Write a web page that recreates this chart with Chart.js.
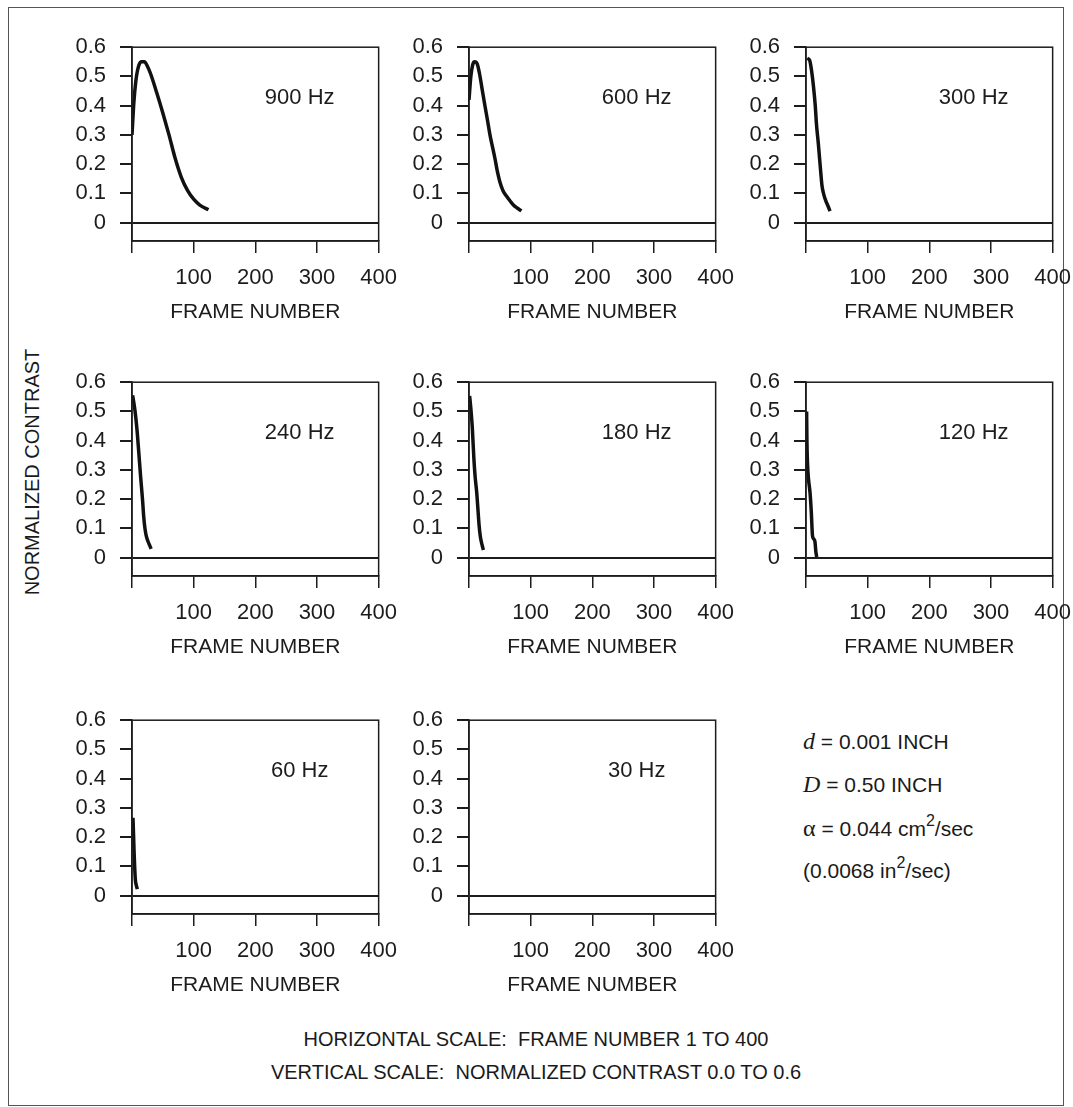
<!DOCTYPE html>
<html>
<head>
<meta charset="utf-8">
<title>Normalized contrast vs frame number</title>
<script src="https://cdn.jsdelivr.net/npm/chart.js@4/dist/chart.umd.min.js"></script>
<style>
  body {
    margin: 0;
    background: #fff;
    width: 1073px;
    height: 1107px;
    position: relative;
    overflow: hidden;
    font-family: "Liberation Sans", Arial, sans-serif;
    color: #1a1a1a;
  }
  #frame {
    position: absolute;
    left: 8px; top: 7px;
    width: 1056px; height: 1099px;
    border: 1px solid #555;
    box-sizing: border-box;
  }
  .panel { position: absolute; }
  #ylabel {
    position: absolute;
    left: 32px; top: 472px;
    transform: translate(-50%, -50%) rotate(-90deg);
    font-size: 20px;
    white-space: nowrap;
  }
  .note {
    position: absolute;
    left: 803px;
    font-size: 21px;
    white-space: nowrap;
    transform: translateY(-50%);
  }
  .note .sym { font-family: "Liberation Serif", serif; font-style: italic; font-size: 24px; }
  .note .greek { font-family: "Liberation Serif", serif; font-size: 24px; }
  .note sup { font-size: 16px; line-height: 0; vertical-align: 10px; }
  .foot {
    position: absolute;
    left: 8px; width: 1056px;
    text-align: center;
    font-size: 20px;
    white-space: pre;
    transform: translateY(-50%);
  }
</style>
</head>
<body>
<div id="frame"></div>
<div id="ylabel">NORMALIZED CONTRAST</div>

<div class="note" style="top:741px"><span class="sym">d</span> = 0.001 INCH</div>
<div class="note" style="top:784px"><span class="sym">D</span> = 0.50 INCH</div>
<div class="note" style="top:828px"><span class="greek">α</span> = 0.044 cm<sup>2</sup>/sec</div>
<div class="note" style="top:871px">(0.0068 in<sup>2</sup>/sec)</div>

<div class="foot" style="top:1039px">HORIZONTAL SCALE:  FRAME NUMBER 1 TO 400</div>
<div class="foot" style="top:1072px">VERTICAL SCALE:  NORMALIZED CONTRAST 0.0 TO 0.6</div>

<script>
// axis ticks shared by every panel
const xTicks = [0, 100, 200, 300, 400];
const yTicks = [0, 0.1, 0.2, 0.3, 0.4, 0.5, 0.6];

// contrast curves, one per excitation frequency
const frames900 = [0, 3, 6, 10, 15, 20, 25, 30, 40, 50, 60, 70, 80, 90, 100, 110, 124];
const contrast900 = [0.30, 0.41, 0.48, 0.53, 0.55, 0.55, 0.535, 0.51, 0.445, 0.375, 0.30, 0.22, 0.155, 0.11, 0.08, 0.06, 0.044];

const frames600 = [0, 3, 6, 9, 13, 17, 21, 25, 30, 34, 38, 42, 46, 50, 55, 61, 67, 72, 78, 85];
const contrast600 = [0.42, 0.50, 0.54, 0.55, 0.545, 0.51, 0.46, 0.41, 0.35, 0.30, 0.26, 0.22, 0.175, 0.14, 0.11, 0.09, 0.073, 0.06, 0.05, 0.04];

const frames300 = [2, 6, 9, 12, 15, 17, 20, 22, 24, 26, 29, 32, 36, 39];
const contrast300 = [0.562, 0.555, 0.52, 0.468, 0.40, 0.336, 0.27, 0.22, 0.17, 0.125, 0.095, 0.075, 0.055, 0.039];

const frames240 = [1, 3, 5, 8, 11, 14, 17, 19, 21, 23, 26, 29, 31];
const contrast240 = [0.555, 0.53, 0.50, 0.44, 0.36, 0.276, 0.20, 0.14, 0.10, 0.075, 0.055, 0.04, 0.03];

const frames180 = [1, 3, 5.4, 8, 10, 12.5, 14.5, 16.3, 18.5, 21, 23.3];
const contrast180 = [0.553, 0.51, 0.443, 0.335, 0.275, 0.223, 0.165, 0.112, 0.07, 0.045, 0.026];

const frames120 = [1, 1.5, 2.5, 4, 6.5, 8.5, 10.5, 12, 14.5, 16, 17.4];
const contrast120 = [0.50, 0.40, 0.32, 0.27, 0.223, 0.16, 0.075, 0.065, 0.055, 0.02, 0.002];

const frames60 = [1.6, 2.5, 3.3, 4.3, 5.4, 7, 8.7];
const contrast60 = [0.266, 0.21, 0.155, 0.10, 0.055, 0.035, 0.022];

const frames30 = [];
const contrast30 = [];

const panelLabels = ['900 Hz', '600 Hz', '300 Hz', '240 Hz', '180 Hz', '120 Hz', '60 Hz', '30 Hz'];
const panelFrames = [frames900, frames600, frames300, frames240, frames180, frames120, frames60, frames30];
const panelValues = [contrast900, contrast600, contrast300, contrast240, contrast180, contrast120, contrast60, contrast30];

// page layout: plot-area corners for the 3x3 grid
const colLeft = [132, 469, 806];
const rowTop = [40, 375, 713];
const plotW = 247;
const plotH = 201;
const yAxisW = 90;
const xAxisH = 95;
const padTop = 20;
const padRight = 30;

const INK = '#1c1c1c';
const FONT = '"Liberation Sans", Arial, sans-serif';

// box around the plot area
const plotFrame = {
  id: 'plotFrame',
  afterDraw(chart) {
    const { ctx, chartArea: a } = chart;
    ctx.save();
    ctx.strokeStyle = INK;
    ctx.lineWidth = 1.5;
    ctx.strokeRect(a.left, a.top, a.right - a.left, a.bottom - a.top);
    ctx.restore();
  }
};

// frequency caption inside each panel
const hzLabel = {
  id: 'hzLabel',
  afterDatasetsDraw(chart, args, opts) {
    const { ctx, scales: { x, y } } = chart;
    ctx.save();
    ctx.font = '22px ' + FONT;
    ctx.fillStyle = INK;
    ctx.textAlign = 'center';
    ctx.textBaseline = 'middle';
    ctx.fillText(opts.text, x.getPixelForValue(272), y.getPixelForValue(0.425));
    ctx.restore();
  }
};

function makePanel(i) {
  const col = i % 3;
  const row = Math.floor(i / 3);

  const box = document.createElement('div');
  box.className = 'panel';
  box.style.left = (colLeft[col] - yAxisW) + 'px';
  box.style.top = (rowTop[row] - padTop) + 'px';
  box.style.width = (yAxisW + plotW + padRight) + 'px';
  box.style.height = (padTop + plotH + xAxisH) + 'px';
  const canvas = document.createElement('canvas');
  box.appendChild(canvas);
  document.body.appendChild(box);

  const points = panelFrames[i].map((f, k) => ({ x: f, y: panelValues[i][k] }));

  new Chart(canvas, {
    type: 'line',
    data: {
      datasets: [{
        data: points,
        borderColor: '#111',
        borderWidth: 3.5,
        pointRadius: 0,
        fill: false,
        cubicInterpolationMode: 'monotone'
      }]
    },
    options: {
      responsive: true,
      maintainAspectRatio: false,
      animation: false,
      layout: { padding: { top: padTop, right: padRight, left: 0, bottom: 0 } },
      plugins: {
        legend: { display: false },
        tooltip: { enabled: false },
        hzLabel: { text: panelLabels[i] }
      },
      scales: {
        x: {
          type: 'linear',
          min: 0,
          max: 400,
          afterBuildTicks: s => { s.ticks = xTicks.map(v => ({ value: v })); },
          afterFit: s => { s.height = xAxisH; },
          ticks: {
            autoSkip: false,
            maxRotation: 0,
            padding: 12,
            color: INK,
            font: { family: FONT, size: 22 },
            callback: v => v === 0 ? '' : String(v)
          },
          grid: { drawOnChartArea: false, tickLength: 12, color: INK, lineWidth: 1.5 },
          border: { display: true, color: INK, width: 1.5 },
          title: {
            display: true,
            text: 'FRAME NUMBER',
            color: INK,
            font: { family: FONT, size: 21 },
            padding: { top: 0, bottom: 11 }
          }
        },
        y: {
          type: 'linear',
          min: -0.063,
          max: 0.6,
          afterBuildTicks: s => { s.ticks = yTicks.map(v => ({ value: v })); },
          afterFit: s => { s.width = yAxisW; },
          ticks: {
            autoSkip: false,
            padding: 14,
            color: INK,
            font: { family: FONT, size: 22 },
            callback: v => v === 0 ? '0' : v.toFixed(1)
          },
          grid: {
            tickLength: 12,
            lineWidth: 2,
            tickColor: INK,
            color: c => (c.tick && c.tick.value === 0) ? INK : 'rgba(0,0,0,0)'
          },
          border: { display: true, color: INK, width: 1.5 }
        }
      }
    },
    plugins: [plotFrame, hzLabel]
  });
}

for (let i = 0; i < panelLabels.length; i++) makePanel(i);
</script>
</body>
</html>
